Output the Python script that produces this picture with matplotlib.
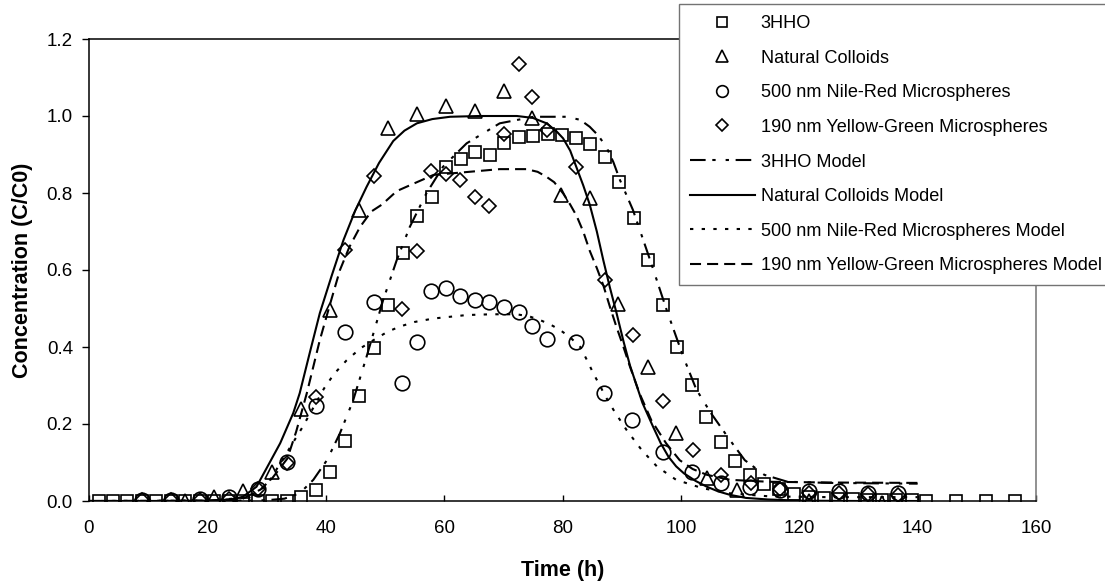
# Breakthrough curves: measured C/C0 and model fits for 4 tracers

import matplotlib
matplotlib.use("Agg")
import matplotlib.pyplot as plt
from matplotlib.transforms import Bbox

plt.rcParams['font.family'] = ['Liberation Sans', 'DejaVu Sans']

hho_t = [1.7, 4.1, 6.5, 9.0, 11.4, 13.9, 16.3, 18.8, 21.2, 23.7, 26.1, 28.6, 31.0, 33.5,
         35.9, 38.4, 40.8, 43.3, 45.7, 48.1, 50.6, 53.0, 55.4, 57.9, 60.3, 62.8, 65.2, 67.7,
         70.1, 72.6, 75.0, 77.5, 79.9, 82.3, 84.7, 87.1, 89.5, 92.0, 94.4, 96.9, 99.3, 101.8,
         104.3, 106.7, 109.2, 111.7, 114.1, 116.6, 119.1, 121.6, 124.1, 126.5, 129.0, 131.5,
         134.0, 136.4, 139.0, 141.4, 146.4, 151.5, 156.5]
hho_c = [0, 0, 0, 0, 0, 0, 0, 0, 0, 0, 0, 0, 0, 0,
         0.010, 0.029, 0.075, 0.156, 0.274, 0.398, 0.509, 0.645, 0.740, 0.789, 0.868, 0.888,
         0.907, 0.899, 0.931, 0.946, 0.949, 0.953, 0.951, 0.944, 0.927, 0.894, 0.829, 0.734,
         0.626, 0.509, 0.399, 0.301, 0.219, 0.154, 0.104, 0.068, 0.044, 0.030, 0.017, 0.010,
         0.007, 0.005, 0.004, 0.003, 0.003, 0.002, 0.002, 0.001, 0, 0, 0]

nat_t = [16.3, 21.2, 26.1, 31.0, 35.9, 40.8, 45.7, 50.6, 55.4, 60.3, 65.2, 70.2, 74.9,
         79.7, 84.6, 89.4, 94.5, 99.2, 104.4, 109.4, 121.7, 134.0]
nat_c = [0.0, 0.011, 0.027, 0.076, 0.240, 0.497, 0.756, 0.970, 1.006, 1.026, 1.013, 1.066,
         0.994, 0.795, 0.786, 0.512, 0.349, 0.176, 0.059, 0.029, 0.0, -0.004]

nr_t = [8.9, 13.8, 18.8, 23.7, 28.6, 33.4, 38.3, 43.2, 48.1, 52.9, 55.4, 57.8, 60.3, 62.7,
        65.2, 67.6, 70.1, 72.6, 74.9, 77.4, 82.3, 87.0, 91.8, 96.9, 101.8, 106.8, 111.6,
        116.7, 121.7, 126.7, 131.6, 136.6]
nr_c = [0.003, 0.003, 0.005, 0.010, 0.032, 0.102, 0.247, 0.438, 0.518, 0.306, 0.414, 0.546,
        0.554, 0.532, 0.522, 0.516, 0.503, 0.490, 0.455, 0.422, 0.412, 0.280, 0.210, 0.128,
        0.076, 0.046, 0.036, 0.029, 0.027, 0.027, 0.020, 0.022]

yg_t = [8.9, 13.8, 18.8, 23.7, 28.6, 33.4, 38.4, 43.3, 48.1, 52.9, 55.4, 57.8, 60.3, 62.7,
        65.2, 67.6, 70.1, 72.7, 74.9, 77.4, 82.3, 87.1, 91.9, 96.9, 102.0, 106.8, 111.8,
        116.7, 121.7, 126.7, 131.6, 136.7]
yg_c = [0.002, 0.002, 0.002, 0.005, 0.030, 0.100, 0.270, 0.651, 0.844, 0.499, 0.650, 0.857,
        0.849, 0.834, 0.789, 0.765, 0.952, 1.134, 1.049, 0.964, 0.868, 0.575, 0.431, 0.260,
        0.132, 0.068, 0.048, 0.030, 0.022, 0.020, 0.018, 0.016]

# model curves
hho_mod_t = [0, 20, 30, 33, 35.6, 37.9, 40.2, 42.4, 44.6, 46.9, 49.7, 52.0, 54.2, 57.0, 59.8,
             63.8, 69.4, 75.1, 80.7, 83.0, 84.6, 86.0, 87.4, 88.6, 89.7, 91.9, 94.8, 97.6,
             100.4, 102.6, 105.0, 108.3, 110.8, 114.1, 118.0, 125, 132, 140]
hho_mod_c = [0, 0, 0.002, 0.006, 0.020, 0.055, 0.106, 0.176, 0.260, 0.375, 0.522, 0.626,
             0.712, 0.799, 0.868, 0.929, 0.981, 0.998, 0.998, 0.990, 0.972, 0.950, 0.920,
             0.880, 0.834, 0.756, 0.626, 0.496, 0.375, 0.290, 0.230, 0.158, 0.106, 0.068,
             0.050, 0.047, 0.046, 0.045]

nat_mod_t = [0, 10, 20, 24, 26, 28.3, 30, 32.3, 34.5, 35.6, 37.3, 39.0, 41.0, 43.0, 45.0,
             46.9, 49.0, 51.4, 53.3, 55.4, 58.0, 61.0, 66.0, 72.3, 75.0, 77.3, 79.0, 80.1,
             81.3, 82.4, 83.5, 84.6, 85.8, 86.9, 88.0, 89.1, 90.3, 91.4, 93.5, 95.3, 96.6,
             97.9, 99.2, 100.5, 102.5, 104.4, 106.3, 108.3, 111.0, 114.7, 120, 130, 140]
nat_mod_c = [0, 0, 0.001, 0.004, 0.011, 0.037, 0.085, 0.150, 0.228, 0.280, 0.385, 0.488,
             0.585, 0.678, 0.755, 0.816, 0.878, 0.935, 0.962, 0.981, 0.992, 0.998, 1.0, 1.0,
             0.995, 0.981, 0.960, 0.942, 0.910, 0.865, 0.820, 0.770, 0.700, 0.625, 0.555,
             0.490, 0.415, 0.352, 0.255, 0.193, 0.150, 0.115, 0.090, 0.072, 0.052, 0.037,
             0.025, 0.016, 0.008, 0.004, 0.001, 0, 0]

nr_mod_t = [0, 20, 26, 28, 30, 32, 34, 36, 38, 39.7, 41.4, 43.5, 45.9, 48.6, 50.5, 52.5,
            55.0, 58.2, 63.8, 68.0, 72.2, 74.3, 76.2, 78.0, 79.6, 81.3, 83.0, 84.0, 85.2,
            86.3, 87.4, 88.8, 90.8, 93.4, 96.0, 99.2, 103.7, 108.3, 115, 125, 140]
nr_mod_c = [0, 0.001, 0.008, 0.020, 0.040, 0.090, 0.140, 0.190, 0.245, 0.292, 0.330, 0.365,
            0.397, 0.423, 0.440, 0.453, 0.465, 0.474, 0.483, 0.485, 0.485, 0.480, 0.470,
            0.458, 0.444, 0.425, 0.400, 0.370, 0.332, 0.300, 0.268, 0.232, 0.185, 0.132,
            0.089, 0.055, 0.033, 0.020, 0.012, 0.010, 0.010]

yg_mod_t = [0, 20, 26, 29, 31, 33.5, 35, 36.8, 39, 40.7, 42.4, 44, 45.8, 47.7, 49.5, 52,
            54.5, 58.2, 63.5, 69.4, 73.9, 75.8, 77.3, 78.6, 80.1, 81.3, 82.4, 83.5, 84.6,
            85.8, 86.9, 88.0, 89.1, 90.3, 91.4, 93.0, 95.0, 97.5, 99.8, 102, 104.4, 108.3,
            114.7, 125, 140]
yg_mod_c = [0, 0.001, 0.006, 0.030, 0.060, 0.110, 0.180, 0.280, 0.418, 0.510, 0.600, 0.660,
            0.712, 0.752, 0.770, 0.805, 0.822, 0.847, 0.854, 0.862, 0.862, 0.855, 0.842,
            0.828, 0.799, 0.770, 0.740, 0.700, 0.650, 0.605, 0.560, 0.505, 0.453, 0.400,
            0.349, 0.280, 0.210, 0.150, 0.106, 0.083, 0.068, 0.055, 0.050, 0.048, 0.047]

fig = plt.figure(figsize=(11.10, 5.86), dpi=100)
ax = fig.add_axes([89/1110, 1-501/586, (1036-89)/1110, (501-39)/586])

mk = dict(ls='none', mfc='none', mec='black', mew=1.2)
p1, = ax.plot(hho_t, hho_c, marker='s', ms=8.8, label='3HHO', **mk)
p2, = ax.plot(nat_t, nat_c, marker='^', ms=10.5, label='Natural Colloids', **mk)
p3, = ax.plot(nr_t, nr_c, marker='o', ms=10.5, label='500 nm Nile-Red Microspheres', **mk)
p4, = ax.plot(yg_t, yg_c, marker='D', ms=7.4, label='190 nm Yellow-Green Microspheres', **mk)

lw = 1.5
m1, = ax.plot(hho_mod_t, hho_mod_c, color='black', lw=lw,
              ls=(0, (7.5, 3.2, 1.6, 4.8, 1.6, 3.2)), label='3HHO Model')
m2, = ax.plot(nat_mod_t, nat_mod_c, color='black', lw=lw, ls='-',
              label='Natural Colloids Model')
m3, = ax.plot(nr_mod_t, nr_mod_c, color='black', lw=lw, ls=(0, (1.6, 4.0)),
              label='500 nm Nile-Red Microspheres Model')
m4, = ax.plot(yg_mod_t, yg_mod_c, color='black', lw=lw, ls=(0, (5.3, 2.9)),
              label='190 nm Yellow-Green Microspheres Model')

ax.set_xlim(0, 160)
ax.set_ylim(0, 1.2)
ax.set_xticks(range(0, 161, 20))
ax.set_yticks([0, 0.2, 0.4, 0.6, 0.8, 1.0, 1.2])
ax.set_yticklabels(['%.1f' % v for v in [0, 0.2, 0.4, 0.6, 0.8, 1.0, 1.2]])
ax.tick_params(axis='x', direction='in', length=4.5, width=1, labelsize=13.5, pad=14)
ax.tick_params(axis='y', direction='out', length=4.8, width=1, labelsize=13.5, pad=6.8)
for s in ['left', 'bottom', 'top']:
    ax.spines[s].set_linewidth(1.1)
    ax.spines[s].set_color('black')
ax.spines['right'].set_linewidth(1.1)
ax.spines['right'].set_color('0.45')

ax.set_xlabel('Time (h)', fontsize=15.5, fontweight='bold', labelpad=16)
ax.set_ylabel('Concentration (C/C0)', fontsize=15.5, fontweight='bold', labelpad=10)

leg = ax.legend(handles=[p1, p2, p3, p4, m1, m2, m3, m4], loc='upper left',
                bbox_to_anchor=(679/1110, 1 - 4/586), bbox_transform=fig.transFigure,
                borderaxespad=0, fontsize=13.1, handlelength=3.55, handletextpad=0.33,
                labelspacing=0.97, borderpad=0.6, markerscale=0.8,
                fancybox=False, framealpha=1, edgecolor='0.45')
leg.get_frame().set_linewidth(1.0)
# the legend box runs off the right edge in the original: hide its right side
leg.get_frame().set_clip_box(Bbox.from_extents(0, 0, 1105, 586))
leg.get_frame().set_clip_on(True)
leg.set_zorder(10)

fig.savefig('out.png', dpi=100)
